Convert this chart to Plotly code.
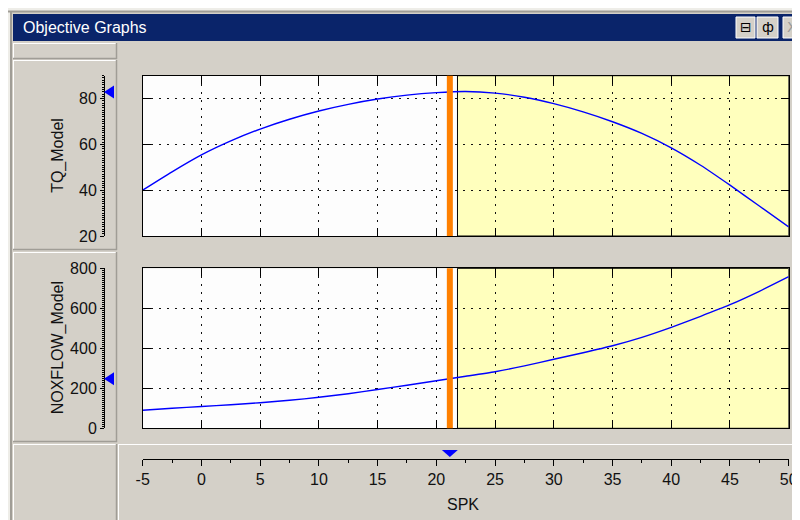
"""
Objective Graphs — TQ_Model and NOXFLOW_Model against SPK.
"""

import numpy as np
import plotly.graph_objects as go

# data
spk = [-5, -2.5, 0, 2.5, 5, 7.5, 10, 12.5, 15, 17.5, 20, 22.5,
       25, 27.5, 30, 32.5, 35, 37.5, 40, 42.5, 45, 47.5, 50]
tq_model = [40, 48, 55.4, 61.5, 66.7, 71, 74.6, 77.5, 79.8, 81.5, 82.6, 83.1,
            82.4, 80.6, 77.8, 74.2, 69.9, 64.8, 58.5, 50.9, 42.2, 33.1, 24]
noxflow_model = [90, 100, 109, 118, 128, 140, 155, 173, 194, 215, 238, 260,
                 283, 312, 345, 378, 413, 455, 505, 560, 618, 685, 758]

spk_ticks = [-5, 0, 5, 10, 15, 20, 25, 30, 35, 40, 45, 50]
spk_tick_labels = ["-5", "0", "5", "10", "15", "20", "25", "30", "35", "40", "45", "50"]

spk_current = 21.15
feasible_range = [21.8, 50]
spk_range = [-5, 50]
tq_range = [20, 90]
nox_range = [0, 800]

W, H = 800, 520
PAGE_OFFSET = 8  # the page body margin pushes the figure 8px right and down
BG = "#d4d0c8"
GRAY_EDGE = "#a09d96"
FONT = "Liberation Sans"


def px(x):
    return (x - PAGE_OFFSET) / W


def py(y):
    return 1 - (y - PAGE_OFFSET) / H


def hline(x0, x1, y, color, width=1):
    return dict(type="line", xref="paper", yref="paper", x0=px(x0), x1=px(x1),
                y0=py(y), y1=py(y), line=dict(color=color, width=width))


def vline(x, y0, y1, color, width=1):
    return dict(type="line", xref="paper", yref="paper", x0=px(x), x1=px(x),
                y0=py(y0), y1=py(y1), line=dict(color=color, width=width))


def panel(x0, y0, x1, y1):
    return [hline(x0, x1, y0 + 0.5, "#ffffff"), vline(x0 + 0.5, y0, y1, "#ffffff"),
            hline(x0, x1, y1 - 0.5, GRAY_EDGE, 1.5), vline(x1 - 0.5, y0, y1, GRAY_EDGE, 1.5)]


# plot frames (pixel positions)
plot_x = [px(142.7), px(788.7)]
top_y = [py(236), py(75.7)]
bot_y = [py(428.3), py(268.3)]

fig = go.Figure()

fig.add_trace(go.Scatter(x=spk, y=tq_model, mode="lines", xaxis="x", yaxis="y",
                         line=dict(color="#0000ff", width=1.4, shape="spline", smoothing=0.6),
                         hoverinfo="skip"))
fig.add_trace(go.Scatter(x=spk, y=noxflow_model, mode="lines", xaxis="x2", yaxis="y2",
                         line=dict(color="#0000ff", width=1.4, shape="spline", smoothing=0.6),
                         hoverinfo="skip"))
# invisible helpers so the side axes get drawn
fig.add_trace(go.Scatter(x=spk, y=tq_model, xaxis="x", yaxis="y3", opacity=0, hoverinfo="skip"))
fig.add_trace(go.Scatter(x=spk, y=noxflow_model, xaxis="x2", yaxis="y4", opacity=0, hoverinfo="skip"))
fig.add_trace(go.Scatter(x=spk, y=tq_model, xaxis="x3", yaxis="y5", opacity=0, hoverinfo="skip"))

grid = dict(showgrid=True, gridcolor="#111111", griddash="2px,6px", gridwidth=1)
frame = dict(showline=True, linecolor="#000000", linewidth=1.2, mirror="ticks",
             ticks="inside", ticklen=8, tickwidth=1.2, tickcolor="#000000",
             showticklabels=False, zeroline=False, automargin=False)
side = dict(showline=True, linecolor="#000000", linewidth=1, ticks="outside",
            ticklen=4, tickcolor="#000000", showgrid=False, zeroline=False, automargin=False,
            tickfont=dict(family=FONT, size=16, color="#111111"))

fig.update_layout(
    xaxis=dict(domain=plot_x, range=spk_range, dtick=5, tick0=0, anchor="y", **grid, **frame),
    yaxis=dict(domain=top_y, range=tq_range, dtick=20, tick0=0, anchor="x", **grid, **frame),
    xaxis2=dict(domain=plot_x, range=spk_range, dtick=5, tick0=0, anchor="y2", **grid, **frame),
    yaxis2=dict(domain=bot_y, range=nox_range, dtick=200, tick0=0, anchor="x2", **grid, **frame),
    yaxis3=dict(overlaying="y", anchor="free", position=px(104), side="left",
                range=tq_range, dtick=20, tick0=0,
                minor=dict(dtick=1, ticklen=2.5, ticks="outside", tickcolor="#000000"), **side),
    yaxis4=dict(overlaying="y2", anchor="free", position=px(104), side="left",
                range=nox_range, dtick=200, tick0=0,
                minor=dict(dtick=10, ticklen=2.5, ticks="outside", tickcolor="#000000"), **side),
    xaxis3=dict(domain=plot_x, range=spk_range, anchor="y5", side="bottom",
                tickmode="array", tickvals=spk_ticks, ticktext=spk_tick_labels,
                minor=dict(tickmode="linear", tick0=0, dtick=2.5, ticklen=3, ticks="outside",
                           tickcolor="#000000"),
                **dict(side, ticklen=6)),
    yaxis5=dict(domain=[py(459), py(445)], visible=False, anchor="x3", automargin=False),
    width=W, height=H,
    margin=dict(l=0, r=0, t=0, b=0, pad=0, autoexpand=False),
    paper_bgcolor=BG,
    plot_bgcolor="rgba(0,0,0,0)",
    showlegend=False,
)

shapes = []
# window chrome
shapes.append(dict(type="rect", xref="paper", yref="paper", x0=0, x1=1, y0=py(11), y1=1,
                   fillcolor="#eeede8", line_width=0, layer="below"))
shapes.append(dict(type="rect", xref="paper", yref="paper", x0=0, x1=px(10), y0=0, y1=1,
                   fillcolor="#eeede8", line_width=0, layer="below"))
shapes.append(hline(8, 800, 11.5, GRAY_EDGE, 2))
shapes.append(vline(11, 11, 520, GRAY_EDGE, 2))
shapes.append(dict(type="rect", xref="paper", yref="paper", x0=px(13), x1=1, y0=py(41), y1=py(14),
                   fillcolor="#0a246a", line_width=0))
for bx0, bx1 in [(736, 755), (757, 778), (783, 803)]:
    shapes.append(dict(type="rect", xref="paper", yref="paper", x0=px(bx0), x1=px(bx1),
                       y0=py(38), y1=py(17), fillcolor=BG, line=dict(color="#ffffff", width=1)))
for box in [(13, 43, 117, 59), (13, 60, 117, 250), (13, 252, 117, 442), (13, 444, 117, 530),
            (118, 444, 810, 530)]:
    shapes += panel(*box)

# plot backgrounds and feasible region
for xr, yr in [("x", "y"), ("x2", "y2")]:
    shapes.append(dict(type="rect", xref=xr + " domain", yref=yr + " domain", x0=0, x1=1, y0=0, y1=1,
                       fillcolor="#fdfdfd", line_width=0, layer="below"))
    shapes.append(dict(type="rect", xref=xr, yref=yr + " domain", x0=feasible_range[0],
                       x1=feasible_range[1], y0=0, y1=1, fillcolor="#ffffbd",
                       line=dict(color="#000000", width=1), layer="below"))
    shapes.append(dict(type="line", xref=xr, yref=yr + " domain", x0=spk_current, x1=spk_current,
                       y0=0, y1=1, line=dict(color="#ff8000", width=6), layer="above"))

# current-value markers
tq_now = float(np.interp(spk_current, spk, tq_model))
nox_now = float(np.interp(spk_current, spk, noxflow_model))
for yref, yval in [("y3", tq_now), ("y4", nox_now)]:
    shapes.append(dict(type="path", xref="paper", yref=yref, xsizemode="pixel", ysizemode="pixel",
                       xanchor=px(104), yanchor=yval, path="M 0,0 L 10,6.5 L 10,-6.5 Z",
                       fillcolor="#0000ff", line_width=0))
shapes.append(dict(type="path", xref="x3", yref="paper", xsizemode="pixel", ysizemode="pixel",
                   xanchor=spk_current, yanchor=py(457), path="M 0,0 L -8,7 L 8,7 Z",
                   fillcolor="#0000ff", line_width=0))
fig.update_layout(shapes=shapes)

annotations = [
    dict(text="Objective Graphs", x=px(21), y=py(27.5), xanchor="left", yanchor="middle",
         font=dict(family=FONT, size=16, color="#ffffff")),
    dict(text="TQ_Model", x=px(58), y=sum(top_y) / 2, textangle=-90,
         font=dict(family=FONT, size=16, color="#111111")),
    dict(text="NOXFLOW_Model", x=px(58), y=sum(bot_y) / 2, textangle=-90,
         font=dict(family=FONT, size=16, color="#111111")),
    dict(text="SPK", x=px(463), y=py(504), font=dict(family=FONT, size=16, color="#111111")),
]
for bx, glyph, col in [(745.5, "⊟", "#000000"), (767.5, "ф", "#000000"), (792, "X", "#9a9a9a")]:
    annotations.append(dict(text=glyph, x=px(bx), y=py(27.5),
                            font=dict(family="DejaVu Sans", size=14, color=col)))
for a in annotations:
    a.update(xref="paper", yref="paper", showarrow=False)
    a.setdefault("xanchor", "center")
    a.setdefault("yanchor", "middle")
fig.update_layout(annotations=annotations)

fig.write_html("out.html")
